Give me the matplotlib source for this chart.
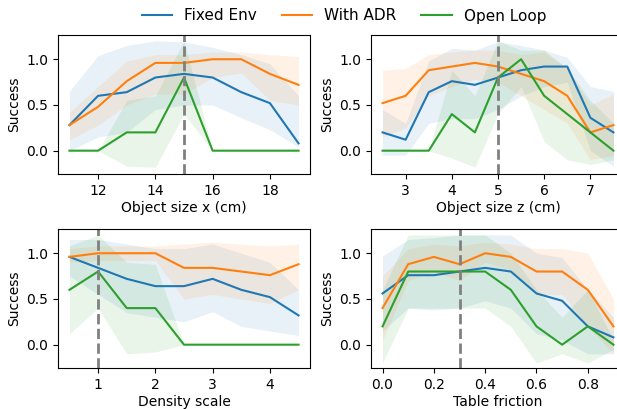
import matplotlib
matplotlib.use("Agg")
import matplotlib.pyplot as plt
import numpy as np

series_names = ["Fixed Env", "With ADR", "Open Loop"]
colors = ["#1f77b4", "#ff7f0e", "#2ca02c"]

# Panel 1: object size x
size_x = [11, 12, 13, 14, 15, 16, 17, 18, 19]
sx_mean = [
    [0.28, 0.60, 0.64, 0.80, 0.84, 0.80, 0.64, 0.52, 0.08],
    [0.28, 0.48, 0.76, 0.96, 0.96, 1.00, 1.00, 0.84, 0.72],
    [0.00, 0.00, 0.20, 0.20, 0.80, 0.00, 0.00, 0.00, 0.00],
]
sx_lo = [
    [0.00, 0.15, 0.20, 0.45, 0.50, 0.50, 0.36, 0.23, 0.04],
    [0.12, 0.28, 0.50, 0.62, 0.62, 0.80, 0.85, 0.55, 0.50],
    [0.00, 0.00, -0.17, -0.18, 0.40, 0.00, 0.00, 0.00, 0.00],
]
sx_hi = [
    [0.65, 1.04, 1.15, 1.20, 1.19, 1.13, 1.05, 0.95, 0.60],
    [0.42, 0.70, 0.98, 1.05, 1.05, 1.08, 1.08, 1.05, 1.03],
    [0.00, 0.00, 0.55, 0.60, 1.20, 0.00, 0.00, 0.00, 0.00],
]

# Panel 2: object size z
size_z = [2.5, 3.0, 3.5, 4.0, 4.5, 5.0, 5.5, 6.0, 6.5, 7.0, 7.5]
sz_mean = [
    [0.20, 0.12, 0.64, 0.76, 0.72, 0.80, 0.88, 0.92, 0.92, 0.36, 0.20],
    [0.52, 0.60, 0.88, 0.92, 0.96, 0.92, 0.84, 0.76, 0.60, 0.20, 0.28],
    [0.00, 0.00, 0.00, 0.40, 0.20, 0.80, 1.00, 0.60, 0.40, 0.20, 0.00],
]
sz_lo = [
    [-0.05, -0.05, 0.30, 0.35, 0.35, 0.45, 0.60, 0.70, 0.75, 0.00, -0.17],
    [0.15, 0.25, 0.60, 0.70, 0.78, 0.75, 0.60, 0.45, 0.30, -0.10, -0.05],
    [0.00, 0.00, 0.00, -0.08, -0.18, 0.40, 0.70, 0.10, -0.10, -0.15, -0.10],
]
sz_hi = [
    [0.45, 0.30, 0.98, 1.12, 1.10, 1.19, 1.15, 1.10, 1.02, 0.70, 0.65],
    [0.88, 0.90, 1.05, 1.08, 1.10, 1.10, 1.05, 1.08, 0.90, 0.50, 0.62],
    [0.00, 0.00, 0.00, 0.88, 0.60, 1.20, 1.10, 1.10, 0.90, 0.55, 0.30],
]

# Panel 3: density scale
density = [0.5, 1.0, 1.5, 2.0, 2.5, 3.0, 3.5, 4.0, 4.5]
de_mean = [
    [0.96, 0.84, 0.72, 0.64, 0.64, 0.72, 0.60, 0.52, 0.32],
    [0.96, 1.00, 1.00, 1.00, 0.84, 0.84, 0.80, 0.76, 0.88],
    [0.60, 0.80, 0.40, 0.40, 0.00, 0.00, 0.00, 0.00, 0.00],
]
de_lo = [
    [0.75, 0.55, 0.35, 0.30, 0.25, 0.36, 0.20, 0.15, 0.10],
    [0.90, 0.92, 0.92, 0.92, 0.50, 0.55, 0.50, 0.45, 0.60],
    [0.12, 0.40, -0.10, -0.08, 0.00, 0.00, 0.00, 0.00, 0.00],
]
de_hi = [
    [1.15, 1.15, 1.10, 1.05, 1.05, 1.10, 1.00, 0.90, 0.60],
    [1.05, 1.08, 1.08, 1.08, 1.10, 1.12, 1.10, 1.08, 1.10],
    [1.08, 1.20, 0.90, 0.88, 0.00, 0.00, 0.00, 0.00, 0.00],
]

# Panel 4: table friction
friction = [0.0, 0.1, 0.2, 0.3, 0.4, 0.5, 0.6, 0.7, 0.8, 0.9]
fr_mean = [
    [0.56, 0.76, 0.76, 0.80, 0.84, 0.80, 0.56, 0.48, 0.20, 0.08],
    [0.40, 0.88, 0.96, 0.88, 1.00, 0.96, 0.80, 0.80, 0.60, 0.20],
    [0.20, 0.80, 0.80, 0.80, 0.80, 0.60, 0.20, 0.00, 0.20, 0.00],
]
fr_lo = [
    [0.15, 0.40, 0.38, 0.40, 0.48, 0.40, 0.12, 0.05, -0.10, -0.10],
    [0.05, 0.70, 0.80, 0.70, 0.90, 0.82, 0.55, 0.55, 0.20, -0.10],
    [-0.20, 0.40, 0.40, 0.40, 0.40, 0.20, -0.20, -0.10, -0.20, -0.05],
]
fr_hi = [
    [0.97, 1.15, 1.17, 1.20, 1.20, 1.20, 1.00, 0.95, 0.60, 0.30],
    [0.75, 1.05, 1.10, 1.08, 1.12, 1.10, 1.05, 1.05, 1.00, 0.50],
    [0.60, 1.20, 1.20, 1.20, 1.20, 1.00, 0.60, 0.30, 0.60, 0.05],
]

x_labels = ["Object size x (cm)", "Object size z (cm)", "Density scale", "Table friction"]
default_values = [15, 5, 1, 0.3]
x_ticks = [[12, 14, 16, 18], [3, 4, 5, 6, 7], [1, 2, 3, 4], [0.0, 0.2, 0.4, 0.6, 0.8]]

panels = [
    (size_x, sx_mean, sx_lo, sx_hi),
    (size_z, sz_mean, sz_lo, sz_hi),
    (density, de_mean, de_lo, de_hi),
    (friction, fr_mean, fr_lo, fr_hi),
]

W, H = 617, 409
fig = plt.figure(figsize=(W / 100, H / 100), dpi=100)

# axes rectangles in pixels: (left, top, right, bottom)
rects = [
    (58, 35, 310, 174),
    (371, 35, 625, 174),
    (58, 229, 310, 368),
    (371, 229, 625, 368),
]

handles = []
for i, (x, means, los, his) in enumerate(panels):
    l, t, r, b = rects[i]
    ax = fig.add_axes([l / W, 1 - b / H, (r - l) / W, (b - t) / H])
    for k in range(3):
        (ln,) = ax.plot(x, means[k], color=colors[k], lw=1.5, label=series_names[k])
        ax.fill_between(x, los[k], his[k], color=colors[k], alpha=0.1, lw=0)
        if i == 0:
            handles.append(ln)
    ax.axvline(default_values[i], color="gray", ls="--", lw=2)
    ax.set_ylim(-0.255, 1.265)
    ax.set_yticks([0.0, 0.5, 1.0])
    ax.set_xticks(x_ticks[i])
    ax.set_xlabel(x_labels[i], fontsize=10, labelpad=2.5)
    ax.set_ylabel("Success", fontsize=10)
    ax.tick_params(labelsize=10)

fig.legend(handles, series_names, loc="center", bbox_to_anchor=(344 / W, 1 - 16 / H),
           ncol=3, frameon=False, fontsize=11, handlelength=2.0, columnspacing=1.6)

fig.savefig("out.png", dpi=100)
